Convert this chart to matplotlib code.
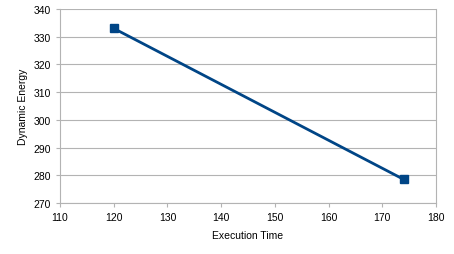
import matplotlib
matplotlib.use('Agg')
import matplotlib.pyplot as plt

# Data
exec_time = [120, 174]
dyn_energy = [333, 278.5]

x_ticks = [110, 120, 130, 140, 150, 160, 170, 180]
y_ticks = [270, 280, 290, 300, 310, 320, 330, 340]

plt.rcParams['font.family'] = ['Liberation Sans', 'DejaVu Sans']

fig = plt.figure(figsize=(4.54, 2.55), dpi=100)
ax = fig.add_axes([60 / 454, 1 - 204 / 255, 376 / 454, 194 / 255])

grid_col = '#b3b3b3'
ax.set_xlim(110, 180)
ax.set_ylim(270, 340)
ax.set_xticks(x_ticks)
ax.set_yticks(y_ticks)
ax.yaxis.grid(True, color=grid_col, linewidth=0.8)
ax.set_axisbelow(True)

ax.plot(exec_time, dyn_energy, color='#004586', linewidth=2,
        marker='s', markersize=6, clip_on=False)

for side in ['left', 'bottom', 'right']:
    ax.spines[side].set_color(grid_col)
    ax.spines[side].set_linewidth(0.8)
ax.spines['top'].set_visible(False)

ax.tick_params(axis='both', colors=grid_col, labelcolor='black',
               labelsize=7.5, length=3, width=0.8)

ax.set_xlabel('Execution Time', fontsize=7.5, labelpad=6)
ax.set_ylabel('Dynamic Energy', fontsize=7.5, labelpad=4)

fig.savefig('out.png', dpi=100)
